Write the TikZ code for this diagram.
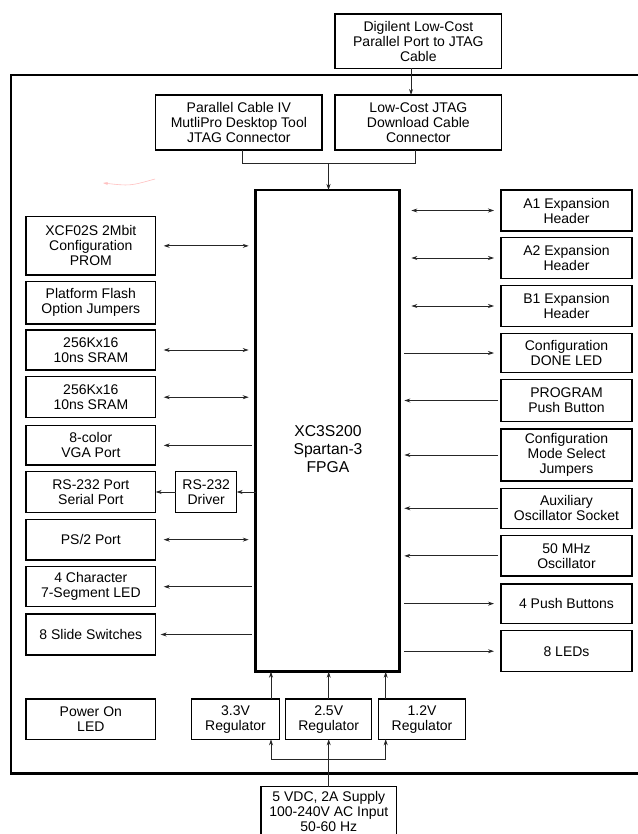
\documentclass[tikz,border=0pt]{standalone}
\usepackage{fontspec}
\setmainfont{Liberation Sans}
\usetikzlibrary{arrows.meta}
\newcommand\blk[7][box]{\node[#1, minimum width={(#5)-(#3)}, minimum height={(#6)-(#4)}] (#2) at ({((#3)+(#5))/2},{((#4)+(#6))/2}) {#7};}
\begin{document}
\begin{tikzpicture}[x=1pt,y=-1pt,
  box/.style={draw, line width=1.2pt, rectangle, inner sep=0pt, outer sep=0pt, align=center, font=\fontsize{14}{15}\selectfont},
  fpgabox/.style={box, line width=2.7pt},
  con/.style={draw=black!85, line width=0.8pt},
  ar/.style={con, -{Stealth[length=6pt,width=4pt]}},
  bi/.style={con, {Stealth[length=6pt,width=4pt]}-{Stealth[length=6pt,width=4pt]}},
  doodle/.style={draw=red!25, line width=0.6pt, -{Stealth[length=5pt,width=3pt]}}
]
\useasboundingbox (0,0) rectangle (637,834);
% board outline
\draw[line width=2.2pt] (11,75) rectangle (660,773.5);
% top
\blk{dig}{335}{14}{501.7}{68.3}{Digilent Low-Cost\\Parallel Port to JTAG\\Cable}
\blk{pc4}{155.7}{95}{322}{150}{Parallel Cable IV\\MutliPro Desktop Tool\\JTAG Connector}
\blk{lowc}{335}{95}{501.7}{150}{Low-Cost JTAG\\Download Cable\\Connector}
% FPGA
\blk[fpgabox]{fpga}{255.7}{190}{399.3}{671.7}{}
\node[font=\fontsize{15.7}{18}\selectfont, align=center] (fpgatxt) at (328,449) {XC3S200\\Spartan-3\\FPGA};
% left column
\blk{xcf}{26}{216.7}{155.7}{275}{XCF02S 2Mbit\\Configuration\\PROM}
\blk{pf}{26}{281.7}{155.7}{324}{Platform Flash\\Option Jumpers}
\blk{sram1}{26}{330}{155.7}{370}{256Kx16\\10ns SRAM}
\blk{sram2}{26}{376.7}{155.7}{417.7}{256Kx16\\10ns SRAM}
\blk{vga}{26}{425.7}{155.7}{465}{8-color\\VGA Port}
\blk{rs}{26}{471.7}{155.7}{512.3}{RS-232 Port\\Serial Port}
\blk{drv}{175.7}{471.7}{236.7}{512.3}{RS-232\\Driver}
\blk{ps2}{26}{519.3}{155.7}{560}{PS/2 Port}
\blk{seg}{26}{566.7}{155.7}{606.7}{4 Character\\7-Segment LED}
\blk{sw}{26}{614}{155.7}{655}{8 Slide Switches}
\blk{pwr}{26}{699}{155.7}{739.3}{Power On\\LED}
% right column
\blk{a1}{501}{190}{632}{231}{A1 Expansion\\Header}
\blk{a2}{501}{237.7}{632}{278.3}{A2 Expansion\\Header}
\blk{b1}{501}{285.3}{632}{326.7}{B1 Expansion\\Header}
\blk{done}{501}{333.3}{632}{372.7}{Configuration\\DONE LED}
\blk{prog}{501}{379.3}{632}{421.7}{PROGRAM\\Push Button}
\blk{mode}{501}{429}{632}{481}{Configuration\\Mode Select\\Jumpers}
\blk{aux}{501}{488.3}{632}{528.3}{Auxiliary\\Oscillator Socket}
\blk{osc}{501}{535.7}{632}{576}{50 MHz\\Oscillator}
\blk{pb}{501}{584}{632}{623.3}{4 Push Buttons}
\blk{leds}{501}{630.7}{632}{671.7}{8 LEDs}
% bottom
\blk{reg33}{191.7}{699}{279.3}{739.3}{3.3V\\Regulator}
\blk{reg25}{285.7}{699}{371.7}{739.3}{2.5V\\Regulator}
\blk{reg12}{378.3}{699}{465.7}{739.3}{1.2V\\Regulator}
\blk{sup}{261}{786.7}{396.7}{836}{5 VDC, 2A Supply\\100-240V AC Input\\50-60 Hz}
% top connectors
\draw[ar] ([xshift=-7.3]dig.south) -- ([xshift=-7.3]lowc.north);
\coordinate (jt) at (328.5,163.3);
\draw[con] ([xshift=4]pc4.south) |- (jt) -| ([xshift=-3.3]lowc.south);
\draw[ar] (jt) -- (jt |- fpga.north);
% left connectors
\foreach \n in {xcf,sram1,sram2,ps2}
  \draw[bi] ([xshift=8]\n.east) -- ([xshift=-7]\n.east -| fpga.west);
\foreach \n in {vga,seg}
  \draw[ar] ([xshift=-4]\n.east -| fpga.west) -- ([xshift=8]\n.east);
\draw[ar] ([xshift=-4]sw.east -| fpga.west) -- ([xshift=5]sw.east);
\draw[ar] (drv.east -| fpga.west) -- (drv.east);
\draw[ar] (drv.west) -- (rs.east);
% right connectors
\foreach \n in {a1,a2,b1}
  \draw[bi] ([xshift=12]\n.west -| fpga.east) -- ([xshift=-7]\n.west);
\foreach \n in {done,pb,leds}
  \draw[ar] ([xshift=5]\n.west -| fpga.east) -- ([xshift=-7]\n.west);
\foreach \n in {prog,mode,aux,osc}
  \draw[ar] ([xshift=-3]\n.west) -- ([xshift=5]\n.west -| fpga.east);
% power connectors
\coordinate (p1) at (271,759.3);
\coordinate (p2) at (328.7,759.3);
\coordinate (p3) at (385.7,759.3);
\draw[ar] (p1 |- reg33.north) -- (p1 |- fpga.south);
\draw[ar] (p2 |- reg25.north) -- (p2 |- fpga.south);
\draw[ar] (p3 |- reg12.north) -- (p3 |- fpga.south);
\draw[con] (p1) -- (p3);
\draw[ar] (p1) -- (p1 |- reg33.south);
\draw[ar] (p3) -- (p3 |- reg12.south);
\draw[ar] (p2 |- sup.north) -- (p2 |- reg25.south);
% faint stray mark
\draw[doodle] (155,179) .. controls (130,186) .. (103,183);
\end{tikzpicture}
\end{document}
